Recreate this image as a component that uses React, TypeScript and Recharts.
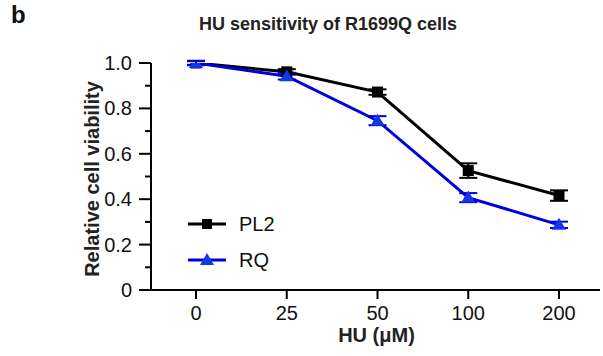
import { ErrorBar, Label, Line, LineChart, XAxis, YAxis } from 'recharts'

const doses = ['0', '25', '50', '100', '200']
const pl2Mean = [1.0, 0.961, 0.872, 0.526, 0.416]
const pl2Err = [0.008, 0.012, 0.012, 0.032, 0.023]
const rqMean = [1.0, 0.942, 0.746, 0.407, 0.287]
const rqErr = [0.01, 0.015, 0.02, 0.02, 0.014]
const yTicks = [0, 0.1, 0.2, 0.3, 0.4, 0.5, 0.6, 0.7, 0.8, 0.9, 1.0]

const BLACK = '#000000'
const BLUE_LINE = '#0000dc'
const BLUE_MARK = '#1535e6'
const FONT = '"Liberation Sans", Arial, sans-serif'

const data = doses.map((dose, i) => ({
  dose,
  PL2: pl2Mean[i],
  pl2Err: pl2Err[i],
  RQ: rqMean[i],
  rqErr: rqErr[i],
}))

function SquareDot(props: any) {
  const { cx, cy, index } = props
  if (cx == null || cy == null) return <g key={`s${index}`} />
  return <rect key={`s${index}`} x={cx - 5.5} y={cy - 5.5} width={11} height={11} fill={BLACK} />
}

function TriangleDot(props: any) {
  const { cx, cy, index } = props
  if (cx == null || cy == null) return <g key={`t${index}`} />
  return <path key={`t${index}`} d={`M${cx},${cy - 7} L${cx + 7},${cy + 5} L${cx - 7},${cy + 5} Z`} fill={BLUE_MARK} />
}

function YTick(props: any) {
  const { x, y, payload } = props
  const v = payload.value as number
  const minor = Math.round(v * 10) % 2 === 1
  return (
    <g>
      <line x1={x - (minor ? 6 : 12)} x2={x} y1={y} y2={y} stroke={BLACK} strokeWidth={2} />
      {!minor && (
        <text x={x - 19} y={y + 7} textAnchor="end" fontSize={20} fontFamily={FONT} fill="#111">
          {v === 0 ? '0' : v.toFixed(1)}
        </text>
      )}
    </g>
  )
}

function XTick(props: any) {
  const { x, y, payload } = props
  return (
    <g>
      <line x1={x} x2={x} y1={y} y2={y + 9} stroke={BLACK} strokeWidth={2} />
      <text x={x} y={y + 29.5} textAnchor="middle" fontSize={20} fontFamily={FONT} fill="#111">
        {payload.value}
      </text>
    </g>
  )
}

function LegendBox() {
  return (
    <svg width={110} height={64}>
      <line x1={3} x2={41} y1={14} y2={14} stroke={BLACK} strokeWidth={3} />
      <rect x={17} y={9} width={10} height={10} fill={BLACK} />
      <text x={54} y={21} fontSize={20} fontFamily={FONT} fill="#111">PL2</text>
      <line x1={3} x2={41} y1={50} y2={50} stroke={BLUE_LINE} strokeWidth={3} />
      <path d="M22,43 L29,55 L15,55 Z" fill={BLUE_MARK} />
      <text x={54} y={57} fontSize={20} fontFamily={FONT} fill="#111">RQ</text>
    </svg>
  )
}

export default function App() {
  return (
    <div style={{ position: 'absolute', left: 0, top: 0, width: 603, height: 356, background: '#fff', fontFamily: FONT }}>
      <div style={{ position: 'absolute', left: 11, top: 2.5, fontSize: 24, lineHeight: '24px', fontWeight: 700, color: '#111' }}>b</div>
      <div style={{ position: 'absolute', left: 178, top: 15, width: 300, textAlign: 'center', fontSize: 18, lineHeight: '18px', fontWeight: 700, color: '#222' }}>
        HU sensitivity of R1699Q cells
      </div>
      <LineChart width={603} height={356} data={data} margin={{ top: 63, right: 3, bottom: 0, left: 0 }}>
        <XAxis
          dataKey="dose"
          height={66}
          padding={{ left: 45, right: 41 }}
          stroke={BLACK}
          axisLine={{ stroke: BLACK, strokeWidth: 2 }}
          tickLine={false}
          tickSize={0}
          tickMargin={0}
          tick={<XTick />}
          interval={0}
        >
          <Label
            content={({ viewBox }: any) => (
              <text x={viewBox.x + viewBox.width / 2 + 1} y={342} textAnchor="middle" fontSize={20} fontWeight={700} fontFamily={FONT} fill="#222">
                HU (μM)
              </text>
            )}
          />
        </XAxis>
        <YAxis
          width={151}
          domain={[0, 1]}
          allowDataOverflow
          ticks={yTicks}
          interval={0}
          axisLine={{ stroke: BLACK, strokeWidth: 2 }}
          tickLine={false}
          tickSize={0}
          tickMargin={0}
          tick={<YTick />}
        >
          <Label
            content={() => (
              <text x={99} y={179} transform="rotate(-90 99 179)" textAnchor="middle" fontSize={20} fontWeight={700} fontFamily={FONT} fill="#222">
                Relative cell viability
              </text>
            )}
          />
        </YAxis>
        <Line dataKey="PL2" stroke={BLACK} strokeWidth={3} dot={SquareDot} activeDot={false} isAnimationActive={false}>
          <ErrorBar dataKey="pl2Err" direction="y" width={9} stroke={BLACK} strokeWidth={2} />
        </Line>
        <Line dataKey="RQ" stroke={BLUE_LINE} strokeWidth={3} dot={TriangleDot} activeDot={false} isAnimationActive={false}>
          <ErrorBar dataKey="rqErr" direction="y" width={9} stroke={BLUE_LINE} strokeWidth={2} />
        </Line>
      </LineChart>
      <div style={{ position: 'absolute', left: 185, top: 210, width: 110, height: 64 }}>
        <LegendBox />
      </div>
    </div>
  )
}
